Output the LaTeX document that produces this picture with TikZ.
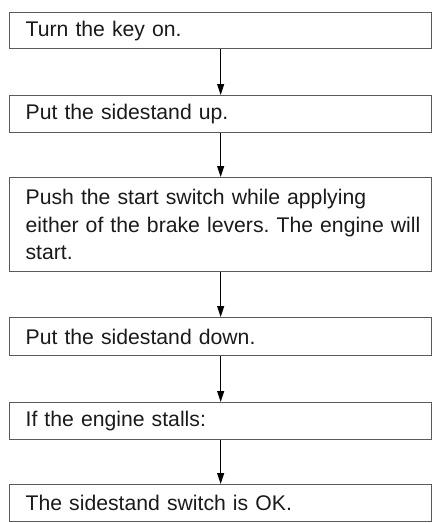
\documentclass[tikz,border=0pt]{standalone}
\usepackage{fontspec}
\setmainfont{Liberation Sans}
\frenchspacing
\usetikzlibrary{arrows.meta}
\definecolor{boxline}{HTML}{5A5A5A}
\definecolor{txt}{HTML}{1A1A1A}
\tikzset{
  stepbox/.style={draw=boxline, line width=1.3pt, rectangle, anchor=north west,
    minimum width=422pt, text width=390pt, inner xsep=16pt, inner ysep=0pt,
    align=left, text=txt, font=\fontsize{21.2}{27.5}\selectfont},
  flow/.style={draw=black, line width=0.9pt, -{Triangle[length=11pt,width=7pt]}}
}
\begin{document}
\begin{tikzpicture}[x=1pt,y=1pt]
\useasboundingbox (0,0) rectangle (434,-523);
\node[stepbox, minimum height=36pt] (b1) at (9,-12) {Turn the key on.};
\node[stepbox, minimum height=37pt] (b2) at (9,-95) {Put the sidestand up.};
\node[stepbox, minimum height=94pt] (b3) at (9,-177) {\mbox{Push the start switch while applying}\\\mbox{either of the brake levers. The engine will}\\\mbox{start.}};
\node[stepbox, minimum height=38pt] (b4) at (9,-317) {Put the sidestand down.};
\node[stepbox, minimum height=37pt] (b5) at (9,-402) {If the engine stalls:};
\node[stepbox, minimum height=37pt] (b6) at (9,-484) {The sidestand switch is OK.};
\draw[flow] (b1.south) -- (b2.north);
\draw[flow] (b2.south) -- (b3.north);
\draw[flow] (b3.south) -- (b4.north);
\draw[flow] (b4.south) -- (b5.north);
\draw[flow] (b5.south) -- (b6.north);
\end{tikzpicture}
\end{document}
